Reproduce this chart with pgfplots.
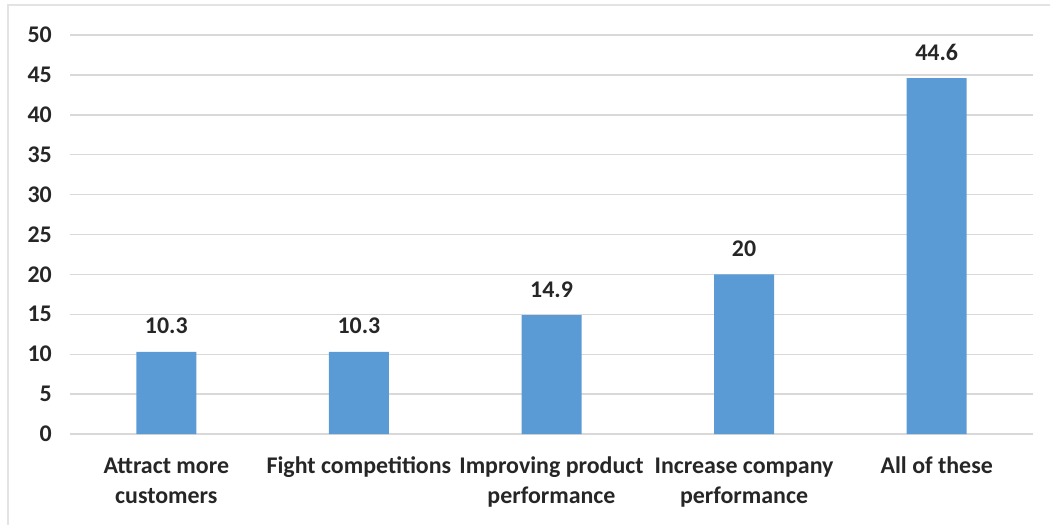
\documentclass[border=0pt]{standalone}
\usepackage{fontspec}
\setmainfont{Carlito}
\usepackage{pgfplots}
\pgfplotsset{compat=1.18}
\definecolor{barblue}{HTML}{5B9BD5}
\definecolor{gridgray}{HTML}{D9D9D9}
\definecolor{framegray}{HTML}{E3E3E3}
\definecolor{txt}{HTML}{262626}
\newcommand{\lblfont}{\bfseries\fontsize{24}{30}\selectfont}
\begin{document}
\begin{tikzpicture}
\useasboundingbox (0,0) rectangle (1050bp,525bp);
% outer chart frame (top and left edges)
\draw[framegray, line width=2bp] (8bp,0) -- (8bp,520bp) -- (1050bp,520bp);
\begin{axis}[
  at={(70bp,91bp)}, anchor=south west,
  scale only axis, width=963bp, height=399bp,
  xmin=-0.5, xmax=4.5, ymin=0, ymax=50,
  ytick={0,5,...,50},
  xtick={0,1,2,3,4},
  xticklabels={\strut Attract more\\customers, \strut Fight competitions, \strut Improving product\\performance, \strut Increase company\\performance, \strut All of these},
  axis line style={draw=none},
  major tick length=0pt,
  ymajorgrids, grid style={gridgray, line width=1.4bp},
  /pgf/number format/assume math mode=true,
  tick label style={font=\lblfont, text=txt, inner sep=0pt},
  yticklabel style={anchor=east, xshift=-18bp},
  xticklabel style={align=center, anchor=north, yshift=-18bp},
  ybar, bar width=60bp,
  nodes near coords,
  nodes near coords style={font=\lblfont, text=txt, anchor=base, yshift=18bp, inner sep=0pt},
  clip=false,
]
\addplot[fill=barblue, draw=none] coordinates {(0,10.3) (1,10.3) (2,14.9) (3,20) (4,44.6)};
\end{axis}
\end{tikzpicture}
\end{document}
